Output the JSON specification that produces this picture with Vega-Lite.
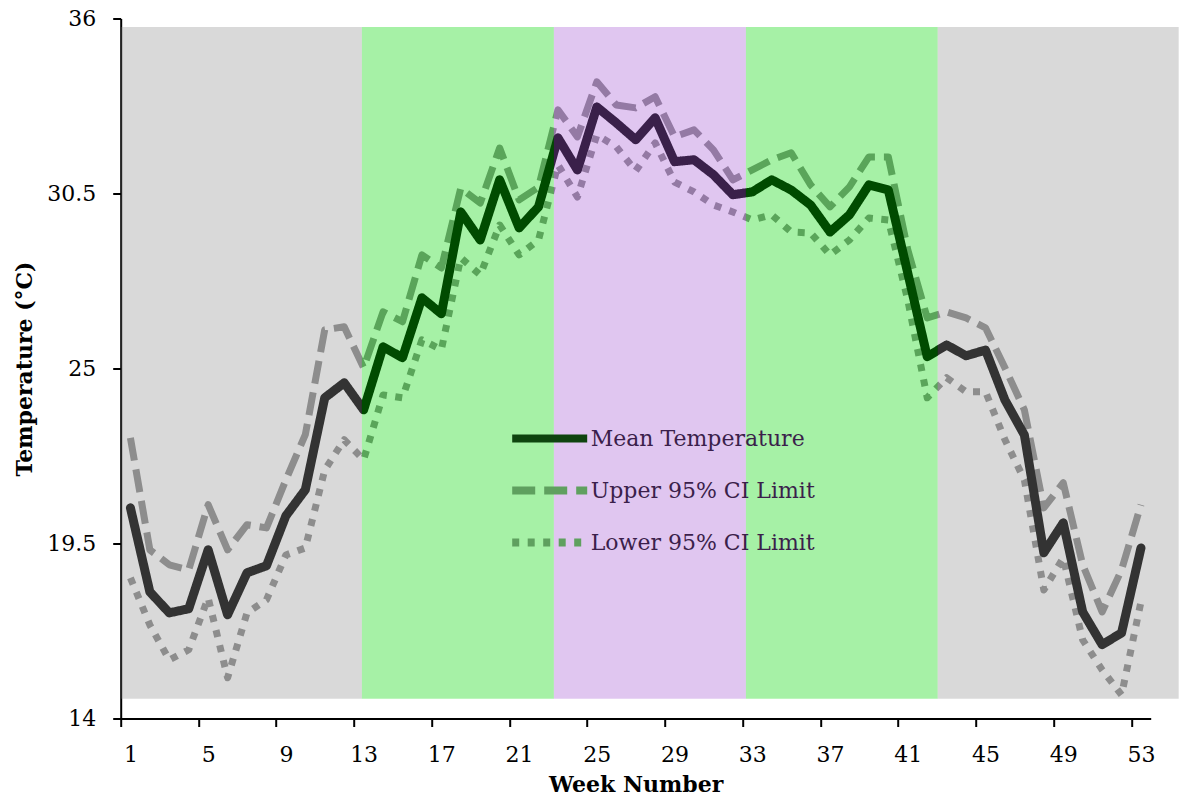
{
  "$schema": "https://vega.github.io/schema/vega-lite/v6.json",
  "width": 1030,
  "height": 700,
  "autosize": "none",
  "padding": {"left": 120.7, "top": 18.5, "right": 32.3, "bottom": 88.5},
  "background": "white",
  "config": {
    "view": {"stroke": null},
    "font": "DejaVu Serif"
  },
  "datasets": {
    "temps": [
      {"week": 1, "series": "Upper 95% CI Limit", "value": 22.82},
      {"week": 2, "series": "Upper 95% CI Limit", "value": 19.30},
      {"week": 3, "series": "Upper 95% CI Limit", "value": 18.83},
      {"week": 4, "series": "Upper 95% CI Limit", "value": 18.67},
      {"week": 5, "series": "Upper 95% CI Limit", "value": 20.72},
      {"week": 6, "series": "Upper 95% CI Limit", "value": 19.30},
      {"week": 7, "series": "Upper 95% CI Limit", "value": 20.09},
      {"week": 8, "series": "Upper 95% CI Limit", "value": 19.99},
      {"week": 9, "series": "Upper 95% CI Limit", "value": 21.50},
      {"week": 10, "series": "Upper 95% CI Limit", "value": 22.92},
      {"week": 11, "series": "Upper 95% CI Limit", "value": 26.22},
      {"week": 12, "series": "Upper 95% CI Limit", "value": 26.31},
      {"week": 13, "series": "Upper 95% CI Limit", "value": 25.02},
      {"week": 14, "series": "Upper 95% CI Limit", "value": 26.78},
      {"week": 15, "series": "Upper 95% CI Limit", "value": 26.47},
      {"week": 16, "series": "Upper 95% CI Limit", "value": 28.57},
      {"week": 17, "series": "Upper 95% CI Limit", "value": 28.16},
      {"week": 18, "series": "Upper 95% CI Limit", "value": 30.67},
      {"week": 19, "series": "Upper 95% CI Limit", "value": 30.20},
      {"week": 20, "series": "Upper 95% CI Limit", "value": 31.93},
      {"week": 21, "series": "Upper 95% CI Limit", "value": 30.30},
      {"week": 22, "series": "Upper 95% CI Limit", "value": 30.70},
      {"week": 23, "series": "Upper 95% CI Limit", "value": 33.13},
      {"week": 24, "series": "Upper 95% CI Limit", "value": 32.28},
      {"week": 25, "series": "Upper 95% CI Limit", "value": 34.01},
      {"week": 26, "series": "Upper 95% CI Limit", "value": 33.28},
      {"week": 27, "series": "Upper 95% CI Limit", "value": 33.19},
      {"week": 28, "series": "Upper 95% CI Limit", "value": 33.54},
      {"week": 29, "series": "Upper 95% CI Limit", "value": 32.28},
      {"week": 30, "series": "Upper 95% CI Limit", "value": 32.50},
      {"week": 31, "series": "Upper 95% CI Limit", "value": 31.87},
      {"week": 32, "series": "Upper 95% CI Limit", "value": 30.93},
      {"week": 33, "series": "Upper 95% CI Limit", "value": 31.24},
      {"week": 34, "series": "Upper 95% CI Limit", "value": 31.56},
      {"week": 35, "series": "Upper 95% CI Limit", "value": 31.78},
      {"week": 36, "series": "Upper 95% CI Limit", "value": 30.77},
      {"week": 37, "series": "Upper 95% CI Limit", "value": 30.08},
      {"week": 38, "series": "Upper 95% CI Limit", "value": 30.71},
      {"week": 39, "series": "Upper 95% CI Limit", "value": 31.65},
      {"week": 40, "series": "Upper 95% CI Limit", "value": 31.65},
      {"week": 41, "series": "Upper 95% CI Limit", "value": 28.73},
      {"week": 42, "series": "Upper 95% CI Limit", "value": 26.59},
      {"week": 43, "series": "Upper 95% CI Limit", "value": 26.78},
      {"week": 44, "series": "Upper 95% CI Limit", "value": 26.59},
      {"week": 45, "series": "Upper 95% CI Limit", "value": 26.28},
      {"week": 46, "series": "Upper 95% CI Limit", "value": 25.02},
      {"week": 47, "series": "Upper 95% CI Limit", "value": 23.70},
      {"week": 48, "series": "Upper 95% CI Limit", "value": 20.62},
      {"week": 49, "series": "Upper 95% CI Limit", "value": 21.41},
      {"week": 50, "series": "Upper 95% CI Limit", "value": 18.83},
      {"week": 51, "series": "Upper 95% CI Limit", "value": 17.35},
      {"week": 52, "series": "Upper 95% CI Limit", "value": 18.67},
      {"week": 53, "series": "Upper 95% CI Limit", "value": 20.72},
      {"week": 1, "series": "Lower 95% CI Limit", "value": 18.42},
      {"week": 2, "series": "Lower 95% CI Limit", "value": 16.94},
      {"week": 3, "series": "Lower 95% CI Limit", "value": 15.84},
      {"week": 4, "series": "Lower 95% CI Limit", "value": 16.16},
      {"week": 5, "series": "Lower 95% CI Limit", "value": 17.79},
      {"week": 6, "series": "Lower 95% CI Limit", "value": 15.28},
      {"week": 7, "series": "Lower 95% CI Limit", "value": 17.32},
      {"week": 8, "series": "Lower 95% CI Limit", "value": 17.73},
      {"week": 9, "series": "Lower 95% CI Limit", "value": 19.14},
      {"week": 10, "series": "Lower 95% CI Limit", "value": 19.36},
      {"week": 11, "series": "Lower 95% CI Limit", "value": 21.81},
      {"week": 12, "series": "Lower 95% CI Limit", "value": 22.76},
      {"week": 13, "series": "Lower 95% CI Limit", "value": 22.13},
      {"week": 14, "series": "Lower 95% CI Limit", "value": 24.17},
      {"week": 15, "series": "Lower 95% CI Limit", "value": 24.08},
      {"week": 16, "series": "Lower 95% CI Limit", "value": 25.90},
      {"week": 17, "series": "Lower 95% CI Limit", "value": 25.59},
      {"week": 18, "series": "Lower 95% CI Limit", "value": 28.48},
      {"week": 19, "series": "Lower 95% CI Limit", "value": 27.94},
      {"week": 20, "series": "Lower 95% CI Limit", "value": 29.51},
      {"week": 21, "series": "Lower 95% CI Limit", "value": 28.57},
      {"week": 22, "series": "Lower 95% CI Limit", "value": 29.04},
      {"week": 23, "series": "Lower 95% CI Limit", "value": 31.40},
      {"week": 24, "series": "Lower 95% CI Limit", "value": 30.39},
      {"week": 25, "series": "Lower 95% CI Limit", "value": 32.34},
      {"week": 26, "series": "Lower 95% CI Limit", "value": 31.97},
      {"week": 27, "series": "Lower 95% CI Limit", "value": 31.21},
      {"week": 28, "series": "Lower 95% CI Limit", "value": 32.09},
      {"week": 29, "series": "Lower 95% CI Limit", "value": 30.86},
      {"week": 30, "series": "Lower 95% CI Limit", "value": 30.55},
      {"week": 31, "series": "Lower 95% CI Limit", "value": 30.14},
      {"week": 32, "series": "Lower 95% CI Limit", "value": 29.92},
      {"week": 33, "series": "Lower 95% CI Limit", "value": 29.67},
      {"week": 34, "series": "Lower 95% CI Limit", "value": 29.83},
      {"week": 35, "series": "Lower 95% CI Limit", "value": 29.29},
      {"week": 36, "series": "Lower 95% CI Limit", "value": 29.26},
      {"week": 37, "series": "Lower 95% CI Limit", "value": 28.57},
      {"week": 38, "series": "Lower 95% CI Limit", "value": 29.04},
      {"week": 39, "series": "Lower 95% CI Limit", "value": 29.73},
      {"week": 40, "series": "Lower 95% CI Limit", "value": 29.67},
      {"week": 41, "series": "Lower 95% CI Limit", "value": 27.15},
      {"week": 42, "series": "Lower 95% CI Limit", "value": 24.08},
      {"week": 43, "series": "Lower 95% CI Limit", "value": 24.71},
      {"week": 44, "series": "Lower 95% CI Limit", "value": 24.27},
      {"week": 45, "series": "Lower 95% CI Limit", "value": 24.27},
      {"week": 46, "series": "Lower 95% CI Limit", "value": 22.76},
      {"week": 47, "series": "Lower 95% CI Limit", "value": 21.50},
      {"week": 48, "series": "Lower 95% CI Limit", "value": 18.04},
      {"week": 49, "series": "Lower 95% CI Limit", "value": 19.05},
      {"week": 50, "series": "Lower 95% CI Limit", "value": 16.47},
      {"week": 51, "series": "Lower 95% CI Limit", "value": 15.53},
      {"week": 52, "series": "Lower 95% CI Limit", "value": 14.74},
      {"week": 53, "series": "Lower 95% CI Limit", "value": 17.67},
      {"week": 1, "series": "Mean Temperature", "value": 20.62},
      {"week": 2, "series": "Mean Temperature", "value": 17.98},
      {"week": 3, "series": "Mean Temperature", "value": 17.32},
      {"week": 4, "series": "Mean Temperature", "value": 17.45},
      {"week": 5, "series": "Mean Temperature", "value": 19.30},
      {"week": 6, "series": "Mean Temperature", "value": 17.26},
      {"week": 7, "series": "Mean Temperature", "value": 18.58},
      {"week": 8, "series": "Mean Temperature", "value": 18.80},
      {"week": 9, "series": "Mean Temperature", "value": 20.37},
      {"week": 10, "series": "Mean Temperature", "value": 21.19},
      {"week": 11, "series": "Mean Temperature", "value": 24.08},
      {"week": 12, "series": "Mean Temperature", "value": 24.55},
      {"week": 13, "series": "Mean Temperature", "value": 23.70},
      {"week": 14, "series": "Mean Temperature", "value": 25.68},
      {"week": 15, "series": "Mean Temperature", "value": 25.34},
      {"week": 16, "series": "Mean Temperature", "value": 27.22},
      {"week": 17, "series": "Mean Temperature", "value": 26.72},
      {"week": 18, "series": "Mean Temperature", "value": 29.92},
      {"week": 19, "series": "Mean Temperature", "value": 29.04},
      {"week": 20, "series": "Mean Temperature", "value": 30.93},
      {"week": 21, "series": "Mean Temperature", "value": 29.42},
      {"week": 22, "series": "Mean Temperature", "value": 30.08},
      {"week": 23, "series": "Mean Temperature", "value": 32.25},
      {"week": 24, "series": "Mean Temperature", "value": 31.24},
      {"week": 25, "series": "Mean Temperature", "value": 33.22},
      {"week": 26, "series": "Mean Temperature", "value": 32.72},
      {"week": 27, "series": "Mean Temperature", "value": 32.19},
      {"week": 28, "series": "Mean Temperature", "value": 32.88},
      {"week": 29, "series": "Mean Temperature", "value": 31.50},
      {"week": 30, "series": "Mean Temperature", "value": 31.56},
      {"week": 31, "series": "Mean Temperature", "value": 31.09},
      {"week": 32, "series": "Mean Temperature", "value": 30.46},
      {"week": 33, "series": "Mean Temperature", "value": 30.55},
      {"week": 34, "series": "Mean Temperature", "value": 30.93},
      {"week": 35, "series": "Mean Temperature", "value": 30.61},
      {"week": 36, "series": "Mean Temperature", "value": 30.14},
      {"week": 37, "series": "Mean Temperature", "value": 29.29},
      {"week": 38, "series": "Mean Temperature", "value": 29.83},
      {"week": 39, "series": "Mean Temperature", "value": 30.77},
      {"week": 40, "series": "Mean Temperature", "value": 30.61},
      {"week": 41, "series": "Mean Temperature", "value": 28.00},
      {"week": 42, "series": "Mean Temperature", "value": 25.37},
      {"week": 43, "series": "Mean Temperature", "value": 25.74},
      {"week": 44, "series": "Mean Temperature", "value": 25.40},
      {"week": 45, "series": "Mean Temperature", "value": 25.58},
      {"week": 46, "series": "Mean Temperature", "value": 24.01},
      {"week": 47, "series": "Mean Temperature", "value": 22.91},
      {"week": 48, "series": "Mean Temperature", "value": 19.21},
      {"week": 49, "series": "Mean Temperature", "value": 20.15},
      {"week": 50, "series": "Mean Temperature", "value": 17.35},
      {"week": 51, "series": "Mean Temperature", "value": 16.32},
      {"week": 52, "series": "Mean Temperature", "value": 16.69},
      {"week": 53, "series": "Mean Temperature", "value": 19.36}
    ],
    "bands": [
      {"band": "grey", "start": 0.53, "end": 12.91, "low": 14.62, "high": 35.73},
      {"band": "green", "start": 12.91, "end": 22.79, "low": 14.62, "high": 35.73},
      {"band": "purple", "start": 22.79, "end": 32.67, "low": 14.62, "high": 35.73},
      {"band": "green", "start": 32.67, "end": 42.54, "low": 14.62, "high": 35.73},
      {"band": "grey", "start": 42.54, "end": 54.94, "low": 14.62, "high": 35.73}
    ]
  },
  "layer": [
    {
      "data": {"name": "temps"},
      "transform": [{"filter": "false"}],
      "mark": {"type": "line", "strokeWidth": 8},
      "encoding": {
        "x": {"field": "week", "type": "quantitative"},
        "y": {"field": "value", "type": "quantitative"},
        "color": {
          "field": "series", "type": "nominal",
          "scale": {"domain": ["Mean Temperature", "Upper 95% CI Limit", "Lower 95% CI Limit"], "range": ["#0f440f", "#5fa05f", "#5fa05f"]},
          "legend": {
            "title": null,
            "orient": "none",
            "legendX": 406,
            "legendY": 397,
            "padding": 0,
            "symbolType": "M-2,0H2",
            "symbolSize": 1406,
            "symbolStrokeWidth": 8,
            "rowPadding": 13,
            "labelOffset": 18,
            "labelFont": "DejaVu Serif",
            "labelFontSize": 22,
            "labelColor": "#3b1f4b",
            "labelLimit": 400
          }
        },
        "strokeDash": {
          "field": "series", "type": "nominal",
          "scale": {"domain": ["Mean Temperature", "Upper 95% CI Limit", "Lower 95% CI Limit"], "range": [[1, 0], [23, 9], [7, 8.5]]},
          "legend": {
            "title": null,
            "orient": "none",
            "legendX": 406,
            "legendY": 397,
            "padding": 0,
            "symbolType": "M-2,0H2",
            "symbolSize": 1406,
            "symbolStrokeWidth": 8,
            "rowPadding": 13,
            "labelOffset": 18,
            "labelFont": "DejaVu Serif",
            "labelFontSize": 22,
            "labelColor": "#3b1f4b",
            "labelLimit": 400
          }
        }
      }
    },
    {
      "data": {"name": "temps"},
      "transform": [{"filter": "datum.series !== 'Mean Temperature'"}],
      "mark": {"type": "line", "strokeWidth": 7, "strokeCap": "butt", "strokeJoin": "round"},
      "encoding": {
        "x": {
          "field": "week", "type": "quantitative",
          "scale": {"domain": [0.5, 53.5], "nice": false, "zero": false},
          "axis": {
            "title": "Week Number",
            "values": [0.5, 4.5, 8.5, 12.5, 16.5, 20.5, 24.5, 28.5, 32.5, 36.5, 40.5, 44.5, 48.5, 52.5],
            "labelExpr": "format(datum.value + 0.5, 'd')",
            "labelOffset": 9.72,
            "labelFlush": false,
            "labelOverlap": false,
            "grid": false,
            "domainColor": "black", "domainWidth": 2,
            "tickColor": "black", "tickWidth": 2, "tickSize": 8,
            "labelFont": "DejaVu Serif", "labelFontSize": 22, "labelColor": "black", "labelPadding": 18,
            "titleFont": "DejaVu Serif", "titleFontSize": 22, "titleFontWeight": "bold", "titleColor": "black", "titlePadding": 9
          }
        },
        "y": {
          "field": "value", "type": "quantitative",
          "scale": {"domain": [14, 36], "nice": false, "zero": false},
          "axis": {
            "title": "Temperature (°C)",
            "values": [14, 19.5, 25, 30.5, 36],
            "format": ".3~g",
            "labelFlush": false,
            "labelOverlap": false,
            "grid": false,
            "domainColor": "black", "domainWidth": 2,
            "tickColor": "black", "tickWidth": 2, "tickSize": 8,
            "labelFont": "DejaVu Serif", "labelFontSize": 22, "labelColor": "black", "labelPadding": 17,
            "titleFont": "DejaVu Serif", "titleFontSize": 22, "titleFontWeight": "bold", "titleColor": "black", "titlePadding": 10
          }
        },
        "stroke": {
          "field": "series", "type": "nominal",
          "scale": {"domain": ["Mean Temperature", "Upper 95% CI Limit", "Lower 95% CI Limit"], "range": ["#000000", "#8a8a8a", "#8a8a8a"]},
          "legend": null
        },
        "strokeDash": {"field": "series", "type": "nominal"}
      }
    },
    {
      "data": {"name": "temps"},
      "transform": [{"filter": "datum.series === 'Mean Temperature'"}],
      "mark": {"type": "line", "strokeWidth": 9, "strokeCap": "round", "strokeJoin": "round"},
      "encoding": {
        "x": {"field": "week", "type": "quantitative"},
        "y": {"field": "value", "type": "quantitative"},
        "stroke": {"field": "series", "type": "nominal", "legend": null},
        "strokeDash": {"field": "series", "type": "nominal"}
      }
    },
    {
      "data": {"name": "bands"},
      "mark": {"type": "rect", "opacity": 0.35, "clip": false},
      "encoding": {
        "x": {"field": "start", "type": "quantitative"},
        "x2": {"field": "end"},
        "y": {"field": "low", "type": "quantitative"},
        "y2": {"field": "high"},
        "fill": {
          "field": "band", "type": "nominal",
          "scale": {"domain": ["grey", "green", "purple"], "range": ["#929292", "#00d600", "#a65bd3"]},
          "legend": null
        }
      }
    }
  ]
}
